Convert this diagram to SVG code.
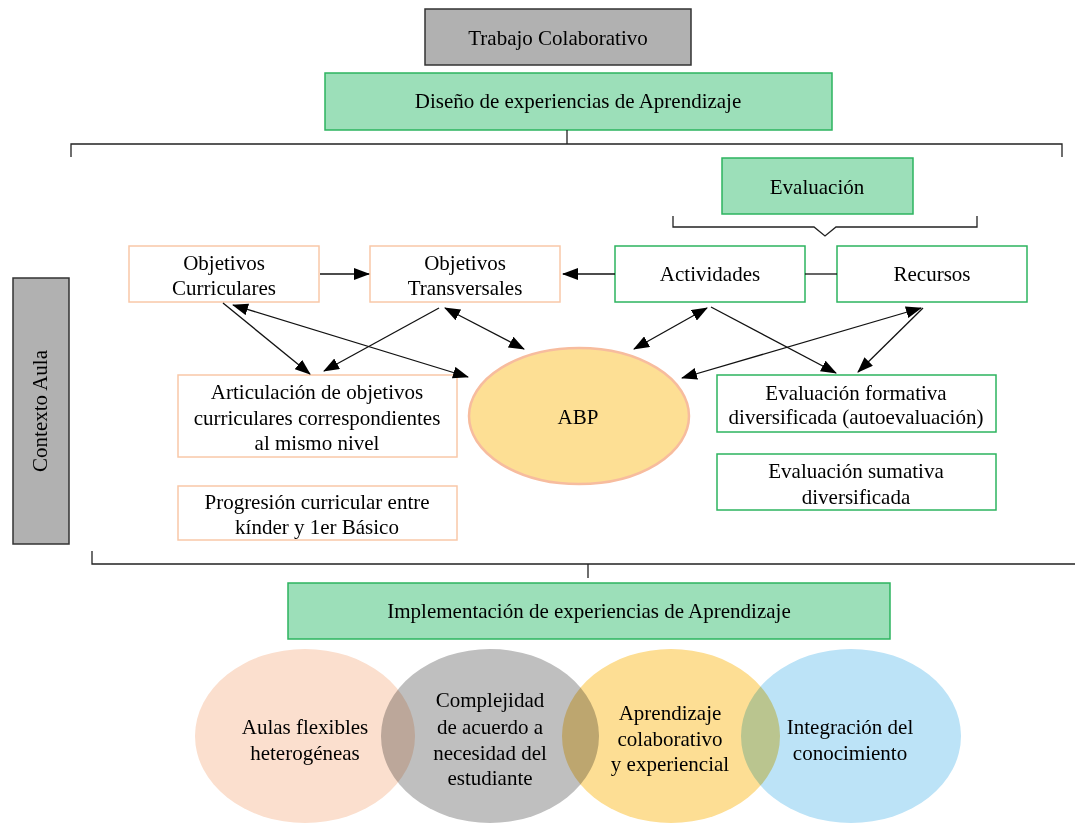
<svg xmlns="http://www.w3.org/2000/svg" width="1075" height="823" viewBox="0 0 1075 823">
<style>
text{font-family:"Liberation Serif","Times New Roman",serif;font-size:21px;fill:#000;text-anchor:middle}
.gray{fill:#B1B1B1;stroke:#333;stroke-width:1.5}
.green{fill:#9CDFB9;stroke:#2DB45F;stroke-width:1.5}
.gbox{fill:#fff;stroke:#2DB45F;stroke-width:1.5}
.pbox{fill:#fff;stroke:#F9C8A8;stroke-width:1.5}
.ln{fill:none;stroke:#111;stroke-width:1.3}
.br{fill:none;stroke:#222;stroke-width:1.3}
.circ{mix-blend-mode:multiply}
</style>
<defs>
<marker id="ah" markerUnits="userSpaceOnUse" markerWidth="16" markerHeight="12" refX="15" refY="6" orient="auto-start-reverse" viewBox="0 0 16 12">
<path d="M0,0 L16,6 L0,12 z" fill="#000"/>
</marker>
</defs>
<rect width="1075" height="823" fill="#fff"/>

<g id="trabajo"><rect class="gray" x="425" y="9" width="266" height="56"/><text x="558" y="45">Trabajo Colaborativo</text></g>
<g id="diseno"><rect class="green" x="325" y="73" width="507" height="57"/><text x="578" y="108">Diseño de experiencias de Aprendizaje</text></g>
<g id="evaluacion"><rect class="green" x="722" y="158" width="191" height="56"/><text x="817" y="194">Evaluación</text></g>
<g id="contexto"><rect class="gray" x="13" y="278" width="56" height="266"/><text transform="translate(40,411) rotate(-90)" x="0" y="7">Contexto Aula</text></g>

<g id="obj-curriculares"><rect class="pbox" x="129" y="246" width="190" height="56"/><text x="224" y="270">Objetivos</text><text x="224" y="295">Curriculares</text></g>
<g id="obj-transversales"><rect class="pbox" x="370" y="246" width="190" height="56"/><text x="465" y="270">Objetivos</text><text x="465" y="295">Transversales</text></g>
<g id="actividades"><rect class="gbox" x="615" y="246" width="190" height="56"/><text x="710" y="281">Actividades</text></g>
<g id="recursos"><rect class="gbox" x="837" y="246" width="190" height="56"/><text x="932" y="281">Recursos</text></g>

<g id="articulacion"><rect class="pbox" x="178" y="375" width="279" height="82"/><text x="317" y="398.5">Articulación de objetivos</text><text x="317" y="424.5">curriculares correspondientes</text><text x="317" y="449.5">al mismo nivel</text></g>
<g id="progresion"><rect class="pbox" x="178" y="486" width="279" height="54"/><text x="317" y="508.5">Progresión curricular entre</text><text x="317" y="534">kínder y 1er Básico</text></g>
<g id="abp"><ellipse cx="579" cy="416" rx="110" ry="68" fill="#FDDF94" stroke="#F7BC9E" stroke-width="2.5"/><text x="578" y="423.5">ABP</text></g>
<g id="eval-formativa"><rect class="gbox" x="717" y="375" width="279" height="57"/><text x="856" y="399.5">Evaluación formativa</text><text x="856" y="424">diversificada (autoevaluación)</text></g>
<g id="eval-sumativa"><rect class="gbox" x="717" y="454" width="279" height="56"/><text x="856" y="478">Evaluación sumativa</text><text x="856" y="503.5">diversificada</text></g>

<g id="implementacion"><rect class="green" x="288" y="583" width="602" height="56"/><text x="589" y="618">Implementación de experiencias de Aprendizaje</text></g>

<g id="circulos">
<ellipse class="circ" cx="305" cy="736" rx="110" ry="87" fill="#FBDFCE"/>
<ellipse class="circ" cx="490" cy="736" rx="109" ry="87" fill="#BFBFBF"/>
<ellipse class="circ" cx="671" cy="736" rx="109" ry="87" fill="#FDDE94"/>
<ellipse class="circ" cx="851" cy="736" rx="110" ry="87" fill="#BCE3F7"/>
</g>
<g id="aulas"><text x="305" y="733.5">Aulas flexibles</text><text x="305" y="759.5">heterogéneas</text></g>
<g id="complejidad"><text x="490" y="707">Complejidad</text><text x="490" y="733.5">de acuerdo a</text><text x="490" y="759.5">necesidad del</text><text x="490" y="784.5">estudiante</text></g>
<g id="aprendizaje"><text x="670" y="720">Aprendizaje</text><text x="670" y="746">colaborativo</text><text x="670" y="771">y experiencial</text></g>
<g id="integracion"><text x="850" y="733.5">Integración del</text><text x="850" y="759.5">conocimiento</text></g>

<g id="connectors">
<path class="br" d="M71,157 V144 H1062 V157 M567,130 V144"/>
<path class="br" d="M673,216 V227 H814 L825,236 L836,227 H977 V216"/>
<path class="br" d="M92,551 V564 H1075 M588,564 V578"/>
<line class="ln" x1="320" y1="274" x2="369" y2="274" marker-end="url(#ah)"/>
<line class="ln" x1="615" y1="274" x2="563" y2="274" marker-end="url(#ah)"/>
<line class="ln" x1="805" y1="274" x2="837" y2="274"/>
<line class="ln" x1="223" y1="303" x2="310" y2="374" marker-end="url(#ah)"/>
<line class="ln" x1="233" y1="305" x2="468" y2="377" marker-start="url(#ah)" marker-end="url(#ah)"/>
<line class="ln" x1="439" y1="308" x2="324" y2="371" marker-end="url(#ah)"/>
<line class="ln" x1="445" y1="308" x2="524" y2="349" marker-start="url(#ah)" marker-end="url(#ah)"/>
<line class="ln" x1="707" y1="308" x2="634" y2="349" marker-start="url(#ah)" marker-end="url(#ah)"/>
<line class="ln" x1="711" y1="307" x2="836" y2="373" marker-end="url(#ah)"/>
<line class="ln" x1="921" y1="308" x2="682" y2="378" marker-start="url(#ah)" marker-end="url(#ah)"/>
<line class="ln" x1="923" y1="308" x2="858" y2="372" marker-end="url(#ah)"/>
</g>
</svg>
